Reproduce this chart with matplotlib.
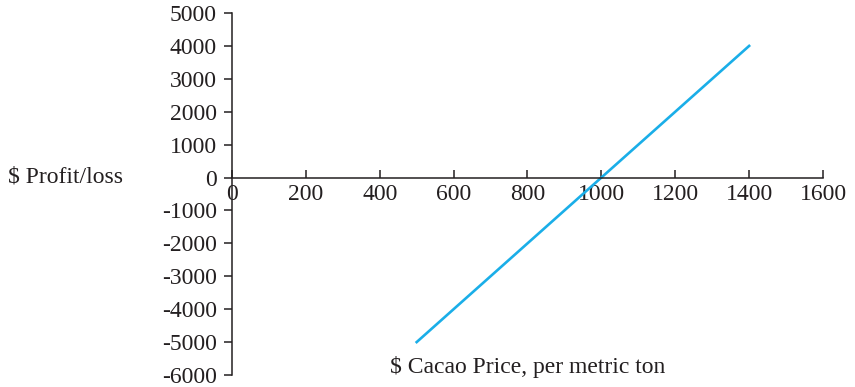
import matplotlib
matplotlib.use("Agg")
import matplotlib.pyplot as plt

# cacao price vs profit/loss
price = [500, 1400]
profit = [-5000, 4000]
x_ticks = [0, 200, 400, 600, 800, 1000, 1200, 1400, 1600]
y_ticks = [-6000, -5000, -4000, -3000, -2000, -1000, 0, 1000, 2000, 3000, 4000, 5000]

plt.rcParams['font.family'] = ['Liberation Serif', 'DejaVu Serif']
plt.rcParams['font.size'] = 17
plt.rcParams['axes.unicode_minus'] = False

fig = plt.figure(figsize=(8.55, 3.87), dpi=100)
ax = fig.add_axes([0.2713, 0.031, 0.6913, 0.9354])

ax.plot(price, profit, color='#1aaee8', linewidth=1.9)

ax.set_xlim(0, 1600)
ax.set_ylim(-6000, 5000)
ax.set_xticks(x_ticks)
ax.set_yticks(y_ticks)

ax.spines['top'].set_visible(False)
ax.spines['right'].set_visible(False)
ax.spines['bottom'].set_position(('data', 0))
for s in ['left', 'bottom']:
    ax.spines[s].set_color('#231f20')
    ax.spines[s].set_linewidth(1.1)

ax.tick_params(axis='y', direction='out', length=6, width=1.1, colors='#231f20', pad=5)
ax.tick_params(axis='x', direction='in', length=6, width=1.1, colors='#231f20', pad=5)

fig.text(8 / 855, 1 - 177 / 387, '$ Profit/loss', ha='left', va='center', fontsize=17, color='#231f20')
fig.text(528 / 855, 1 - 367 / 387, '$ Cacao Price, per metric ton', ha='center', va='center', fontsize=17, color='#231f20')

fig.savefig("out.png", dpi=100)
